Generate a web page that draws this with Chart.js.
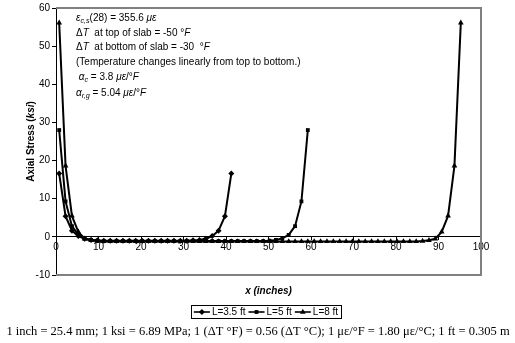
<!DOCTYPE html>
<html>
<head>
<meta charset="utf-8">
<script src="https://cdn.jsdelivr.net/npm/chart.js@4/dist/chart.umd.min.js"></script>
<style>
html,body{margin:0;padding:0;background:#fff;}
#wrap{position:relative;width:515px;height:343px;}
</style>
</head>
<body>
<div id="wrap"><canvas id="c"></canvas></div>
<script>
// ---- data (x in inches, axial stress in ksi) ----
const seriesLabels = ['L=3.5 ft', 'L=5 ft', 'L=8 ft'];

const x35 = [0.75, 2.25, 3.75, 5.25, 6.75, 8.25, 9.75, 11.25, 12.75, 14.25, 15.75, 17.25, 18.75, 20.25,
  21.75, 23.25, 24.75, 26.25, 27.75, 29.25, 30.75, 32.25, 33.75, 35.25, 36.75, 38.25, 39.75, 41.25];
const y35 = [16.6, 5.4, 1.6, 0.2, -0.5, -0.8, -0.9, -1.0, -1.0, -1.0, -1.0, -1.0, -1.0, -1.0,
  -1.0, -1.0, -1.0, -1.0, -1.0, -1.0, -1.0, -0.9, -0.8, -0.5, 0.2, 1.6, 5.4, 16.6];

const x5 = [0.75, 2.25, 3.75, 5.25, 6.75, 8.25, 9.75, 11.25, 12.75, 14.25, 15.75, 17.25, 18.75, 20.25,
  21.75, 23.25, 24.75, 26.25, 27.75, 29.25, 30.75, 32.25, 33.75, 35.25, 36.75, 38.25, 39.75, 41.25,
  42.75, 44.25, 45.75, 47.25, 48.75, 50.25, 51.75, 53.25, 54.75, 56.25, 57.75, 59.25];
const y5 = [28.0, 9.3, 2.8, 0.5, -0.4, -0.8, -1.0, -1.1, -1.1, -1.1, -1.1, -1.1, -1.1, -1.1,
  -1.1, -1.1, -1.1, -1.1, -1.1, -1.1, -1.1, -1.1, -1.1, -1.1, -1.1, -1.1, -1.1, -1.1,
  -1.1, -1.1, -1.1, -1.1, -1.1, -1.0, -0.8, -0.4, 0.5, 2.8, 9.3, 28.0];

const x8 = [0.75, 2.25, 3.75, 5.25, 6.75, 8.25, 9.75, 11.25, 12.75, 14.25, 15.75, 17.25, 18.75, 20.25,
  21.75, 23.25, 24.75, 26.25, 27.75, 29.25, 30.75, 32.25, 33.75, 35.25, 36.75, 38.25, 39.75, 41.25,
  42.75, 44.25, 45.75, 47.25, 48.75, 50.25, 51.75, 53.25, 54.75, 56.25, 57.75, 59.25, 60.75, 62.25,
  63.75, 65.25, 66.75, 68.25, 69.75, 71.25, 72.75, 74.25, 75.75, 77.25, 78.75, 80.25, 81.75, 83.25,
  84.75, 86.25, 87.75, 89.25, 90.75, 92.25, 93.75, 95.25];
const y8 = [56.1, 18.6, 5.5, 1.3, -0.5, -0.9, -1.1, -1.2, -1.2, -1.2, -1.2, -1.2, -1.2, -1.2,
  -1.2, -1.2, -1.2, -1.2, -1.2, -1.2, -1.2, -1.2, -1.2, -1.2, -1.2, -1.2, -1.2, -1.2,
  -1.2, -1.2, -1.2, -1.2, -1.2, -1.2, -1.2, -1.2, -1.2, -1.2, -1.2, -1.2, -1.2, -1.2,
  -1.2, -1.2, -1.2, -1.2, -1.2, -1.2, -1.2, -1.2, -1.2, -1.2, -1.2, -1.2, -1.2, -1.2,
  -1.2, -1.1, -0.9, -0.5, 1.3, 5.5, 18.6, 56.1];

const xTicks = [0, 10, 20, 30, 40, 50, 60, 70, 80, 90, 100];
const yTicks = [-10, 0, 10, 20, 30, 40, 50, 60];

const xTitle = 'x (inches)';
const yTitle = ['Axial Stress (', 'ksi', ')'];
const footerText = '1 inch = 25.4 mm; 1 ksi = 6.89 MPa; 1 (\u0394T \u00B0F) = 0.56 (\u0394T \u00B0C); 1 \u03BC\u03B5/\u00B0F = 1.80 \u03BC\u03B5/\u00B0C; 1 ft = 0.305 m';

// annotation lines: [text, style] runs; style: n=normal, i=italic, s=italic subscript
const noteLines = [
  [['\u03B5', 'i'], ['c,s', 's'], ['(28) = 355.6 ', 'n'], ['\u03BC\u03B5', 'i']],
  [['\u0394', 'n'], ['T', 'i'], ['  at top of slab = -50 \u00B0', 'n'], ['F', 'i']],
  [['\u0394', 'n'], ['T', 'i'], ['  at bottom of slab = -30  \u00B0', 'n'], ['F', 'i']],
  [['(Temperature changes linearly from top to bottom.)', 'n']],
  [[' \u03B1', 'i'], ['c', 's'], [' = 3.8 ', 'n'], ['\u03BC\u03B5', 'i'], ['/\u00B0', 'n'], ['F', 'i']],
  [['\u03B1', 'i'], ['r,g', 's'], [' = 5.04 ', 'n'], ['\u03BC\u03B5', 'i'], ['/\u00B0', 'n'], ['F', 'i']]
];

const pointStyles = ['rectRot', 'rect', 'triangle'];
const pointRadii = [3, 2.7, 3.3];

const FONT = '"Liberation Sans", Arial, sans-serif';

function toPts(xs, ys) { return xs.map((x, i) => ({x: x, y: ys[i]})); }

const datasets = [toPts(x35, y35), toPts(x5, y5), toPts(x8, y8)].map((d, k) => ({
  label: seriesLabels[k],
  data: d,
  borderColor: '#000',
  backgroundColor: '#000',
  borderWidth: 2,
  pointStyle: pointStyles[k],
  pointRadius: pointRadii[k],
  pointBorderWidth: 0,
  pointBackgroundColor: '#000',
  tension: 0
}));

function drawRuns(ctx, runs, x, y, size) {
  ctx.textBaseline = 'middle';
  ctx.textAlign = 'left';
  let cx = x;
  runs.forEach(([t, st]) => {
    let fs = size, dy = 0, style = '';
    if (st === 'i') style = 'italic ';
    if (st === 's') { style = 'italic '; fs = size * 0.72; dy = 3; }
    ctx.font = style + fs + 'px ' + FONT;
    ctx.fillText(t, cx, y + dy);
    cx += ctx.measureText(t).width;
  });
}

const decor = {
  id: 'decor',
  afterDatasetsDraw(chart) {
    const ctx = chart.ctx;
    const a = chart.chartArea;
    ctx.save();
    // plot frame (top, right, bottom)
    ctx.strokeStyle = '#808080';
    ctx.lineWidth = 2;
    ctx.beginPath();
    ctx.moveTo(a.left, a.top);
    ctx.lineTo(a.right, a.top);
    ctx.lineTo(a.right, a.bottom);
    ctx.lineTo(a.left, a.bottom);
    ctx.stroke();
    // annotation text
    ctx.fillStyle = '#000';
    const ys = [18, 33, 47, 62, 77, 93];
    noteLines.forEach((runs, i) => drawRuns(ctx, runs, a.left + 20, ys[i], 10));
    ctx.restore();
  },
  afterDraw(chart) {
    const ctx = chart.ctx;
    const a = chart.chartArea;
    ctx.save();
    ctx.fillStyle = '#000';
    ctx.strokeStyle = '#000';
    // y title
    ctx.save();
    ctx.translate(31, (a.top + a.bottom) / 2);
    ctx.rotate(-Math.PI / 2);
    ctx.font = 'bold 10px ' + FONT;
    const w0 = ctx.measureText(yTitle[0]).width;
    ctx.font = 'bold italic 10px ' + FONT;
    const w1 = ctx.measureText(yTitle[1]).width;
    ctx.font = 'bold 10px ' + FONT;
    const w2 = ctx.measureText(yTitle[2]).width;
    let sx = -(w0 + w1 + w2) / 2;
    ctx.textBaseline = 'middle';
    ctx.textAlign = 'left';
    ctx.fillText(yTitle[0], sx, 0);
    ctx.font = 'bold italic 10px ' + FONT;
    ctx.fillText(yTitle[1], sx + w0, 0);
    ctx.font = 'bold 10px ' + FONT;
    ctx.fillText(yTitle[2], sx + w0 + w1, 0);
    ctx.restore();
    // x title
    ctx.font = 'bold italic 10px ' + FONT;
    ctx.textAlign = 'center';
    ctx.textBaseline = 'middle';
    ctx.fillText(xTitle, (a.left + a.right) / 2, 291);
    // legend
    ctx.font = '10px ' + FONT;
    const sampleW = 16, gapA = 2, gapB = 3, pad = 3;
    let total = pad * 2;
    seriesLabels.forEach((l, i) => {
      total += sampleW + gapA + ctx.measureText(l).width + (i < seriesLabels.length - 1 ? gapB : 0);
    });
    const lx0 = 266 - total / 2, ly = 312;
    ctx.lineWidth = 1;
    ctx.strokeRect(Math.round(lx0) + 0.5, 305.5, Math.round(total), 13);
    let lx = lx0 + pad;
    seriesLabels.forEach((l, i) => {
      ctx.lineWidth = 1.6;
      ctx.beginPath();
      ctx.moveTo(lx, ly);
      ctx.lineTo(lx + sampleW, ly);
      ctx.stroke();
      Chart.helpers.drawPoint(ctx, {pointStyle: pointStyles[i], radius: pointRadii[i], rotation: 0, borderWidth: 0}, lx + sampleW / 2, ly);
      lx += sampleW + gapA;
      ctx.textAlign = 'left';
      ctx.fillText(l, lx, ly + 0.5);
      lx += ctx.measureText(l).width + gapB;
    });
    // footer
    ctx.font = '12.5px "Liberation Serif", "Times New Roman", serif';
    ctx.textAlign = 'center';
    ctx.fillText(footerText, 258, 332);
    ctx.restore();
  }
};

new Chart(document.getElementById('c'), {
  type: 'line',
  data: {datasets: datasets},
  options: {
    responsive: true,
    maintainAspectRatio: false,
    animation: false,
    layout: {padding: {top: 6, right: 34, bottom: 68, left: 0}},
    plugins: {legend: {display: false}, tooltip: {enabled: false}},
    scales: {
      x: {
        type: 'linear',
        position: {y: 0},
        min: 0, max: 100,
        afterBuildTicks: s => { s.ticks = xTicks.map(v => ({value: v})); },
        ticks: {color: '#000', font: {family: FONT, size: 10}, padding: 1, maxRotation: 0},
        grid: {drawOnChartArea: false, drawTicks: true, tickLength: 3, color: '#000'},
        border: {color: '#000', width: 1}
      },
      y: {
        type: 'linear',
        min: -10, max: 60,
        afterBuildTicks: s => { s.ticks = yTicks.map(v => ({value: v})); },
        afterFit: s => { s.width = 56; },
        ticks: {color: '#000', font: {family: FONT, size: 10}, padding: 2},
        grid: {drawOnChartArea: false, drawTicks: true, tickLength: 4, color: '#000'},
        border: {color: '#000', width: 1}
      }
    }
  },
  plugins: [decor]
});
</script>
</body>
</html>
